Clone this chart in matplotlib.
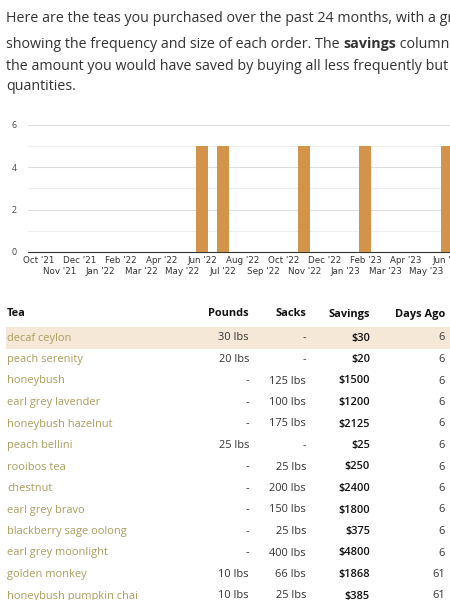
import matplotlib
matplotlib.use("Agg")
import matplotlib.pyplot as plt
from matplotlib.patches import Rectangle

months = ["Oct '21","Nov '21","Dec '21","Jan '22","Feb '22","Mar '22","Apr '22","May '22",
          "Jun '22","Jul '22","Aug '22","Sep '22","Oct '22","Nov '22","Dec '22","Jan '23",
          "Feb '23","Mar '23","Apr '23","May '23","Jun '23"]
orders = [0,0,0,0,0,0,0,0,5,5,0,0,0,5,0,0,5,0,0,0,5]

teas = ["decaf ceylon","peach serenity","honeybush","earl grey lavender","honeybush hazelnut",
        "peach bellini","rooibos tea","chestnut","earl grey bravo","blackberry sage oolong",
        "earl grey moonlight","golden monkey","honeybush pumpkin chai"]
pounds = ["30 lbs","20 lbs","-","-","-","25 lbs","-","-","-","-","-","10 lbs","10 lbs"]
sacks = ["-","-","125 lbs","100 lbs","175 lbs","-","25 lbs","200 lbs","150 lbs","25 lbs","400 lbs","66 lbs","25 lbs"]
savings = ["$30","$20","$1500","$1200","$2125","$25","$250","$2400","$1800","$375","$4800","$1868","$385"]
days_ago = ["6","6","6","6","6","6","6","6","6","6","6","61","61"]

plt.rcParams['font.family'] = ['Open Sans', 'DejaVu Sans']
W, H = 450, 600
fig = plt.figure(figsize=(4.5, 6), dpi=100)

def fx(x): return x / W
def fy(y): return 1 - y / H

pfs = 10.3
para_color = "#333333"
fig.text(fx(6), fy(18), "Here are the teas you purchased over the past 24 months, with a graph",
         fontsize=pfs, color=para_color, va="center")
t = fig.text(fx(6), fy(44), "showing the frequency and size of each order. The ", fontsize=pfs,
             color=para_color, va="center")
fig.canvas.draw()
bb = t.get_window_extent()
t2 = fig.text(bb.x1 / fig.dpi / 4.5, fy(44), "savings", fontsize=pfs, fontweight="bold",
              color=para_color, va="center")
fig.canvas.draw()
bb2 = t2.get_window_extent()
fig.text(bb2.x1 / fig.dpi / 4.5, fy(44), " column shows", fontsize=pfs, color=para_color, va="center")
fig.text(fx(6), fy(66), "the amount you would have saved by buying all less frequently but in larger",
         fontsize=pfs, color=para_color, va="center")
fig.text(fx(6), fy(87), "quantities.", fontsize=pfs, color=para_color, va="center")

step = 20.4
x0px = 39
left_px, right_px = 28, 470
ax = fig.add_axes([fx(left_px), fy(252), fx(right_px - left_px), (252 - 125) / H])
idx = list(range(len(months)))
ax.bar(idx, orders, width=12 / step, color="#d4934a", zorder=3)
ax.set_xlim((left_px - x0px) / step, (right_px - x0px) / step)
ax.set_ylim(0, 6)
ax.set_yticks([0, 2, 4, 6])
ax.set_yticks([1, 3, 5], minor=True)
ax.grid(axis="y", which="major", color="#dddddd", lw=0.8, zorder=0)
ax.grid(axis="y", which="minor", color="#eeeeee", lw=0.8, zorder=0)
ax.tick_params(axis="y", which="both", length=0, labelsize=6.3, labelcolor="#444444", pad=8)
for s in ["top", "right", "left"]:
    ax.spines[s].set_visible(False)
ax.spines["bottom"].set_color("#333333")
ax.set_xticks(idx)
ax.set_xticklabels([m if i % 2 == 0 else "\n" + m for i, m in enumerate(months)],
                   fontsize=6.3, color="#333333", family=["DejaVu Sans"])
ax.tick_params(axis="x", length=0, pad=3)

row0 = 338
rh = 21.5
fig.patches.append(Rectangle((fx(6), fy(row0 + 10.5)), fx(450), rh / H, transform=fig.transFigure,
                             facecolor="#f6e8d6", edgecolor="none", zorder=0))
hy = 314
fs = 7.9
fig.text(fx(7), fy(hy), "Tea", fontsize=fs, fontweight="bold", va="center", color="#111111")
cols = [(249, "Pounds"), (306, "Sacks"), (370, "Savings"), (445, "Days Ago")]
for x, h in cols:
    fig.text(fx(x), fy(hy), h, fontsize=fs, fontweight="bold", ha="right", va="center", color="#111111")
for i in range(len(teas)):
    y = fy(row0 + i * rh)
    fig.text(fx(7), y, teas[i], fontsize=fs, color="#a99d5e", va="center")
    fig.text(fx(249), y, pounds[i], fontsize=fs, color="#333333", ha="right", va="center")
    fig.text(fx(306), y, sacks[i], fontsize=fs, color="#333333", ha="right", va="center")
    fig.text(fx(370), y, savings[i], fontsize=fs, color="#111111", ha="right", va="center", fontweight="semibold")
    fig.text(fx(445), y, days_ago[i], fontsize=fs, color="#333333", ha="right", va="center")

fig.savefig("out.png", dpi=100)
